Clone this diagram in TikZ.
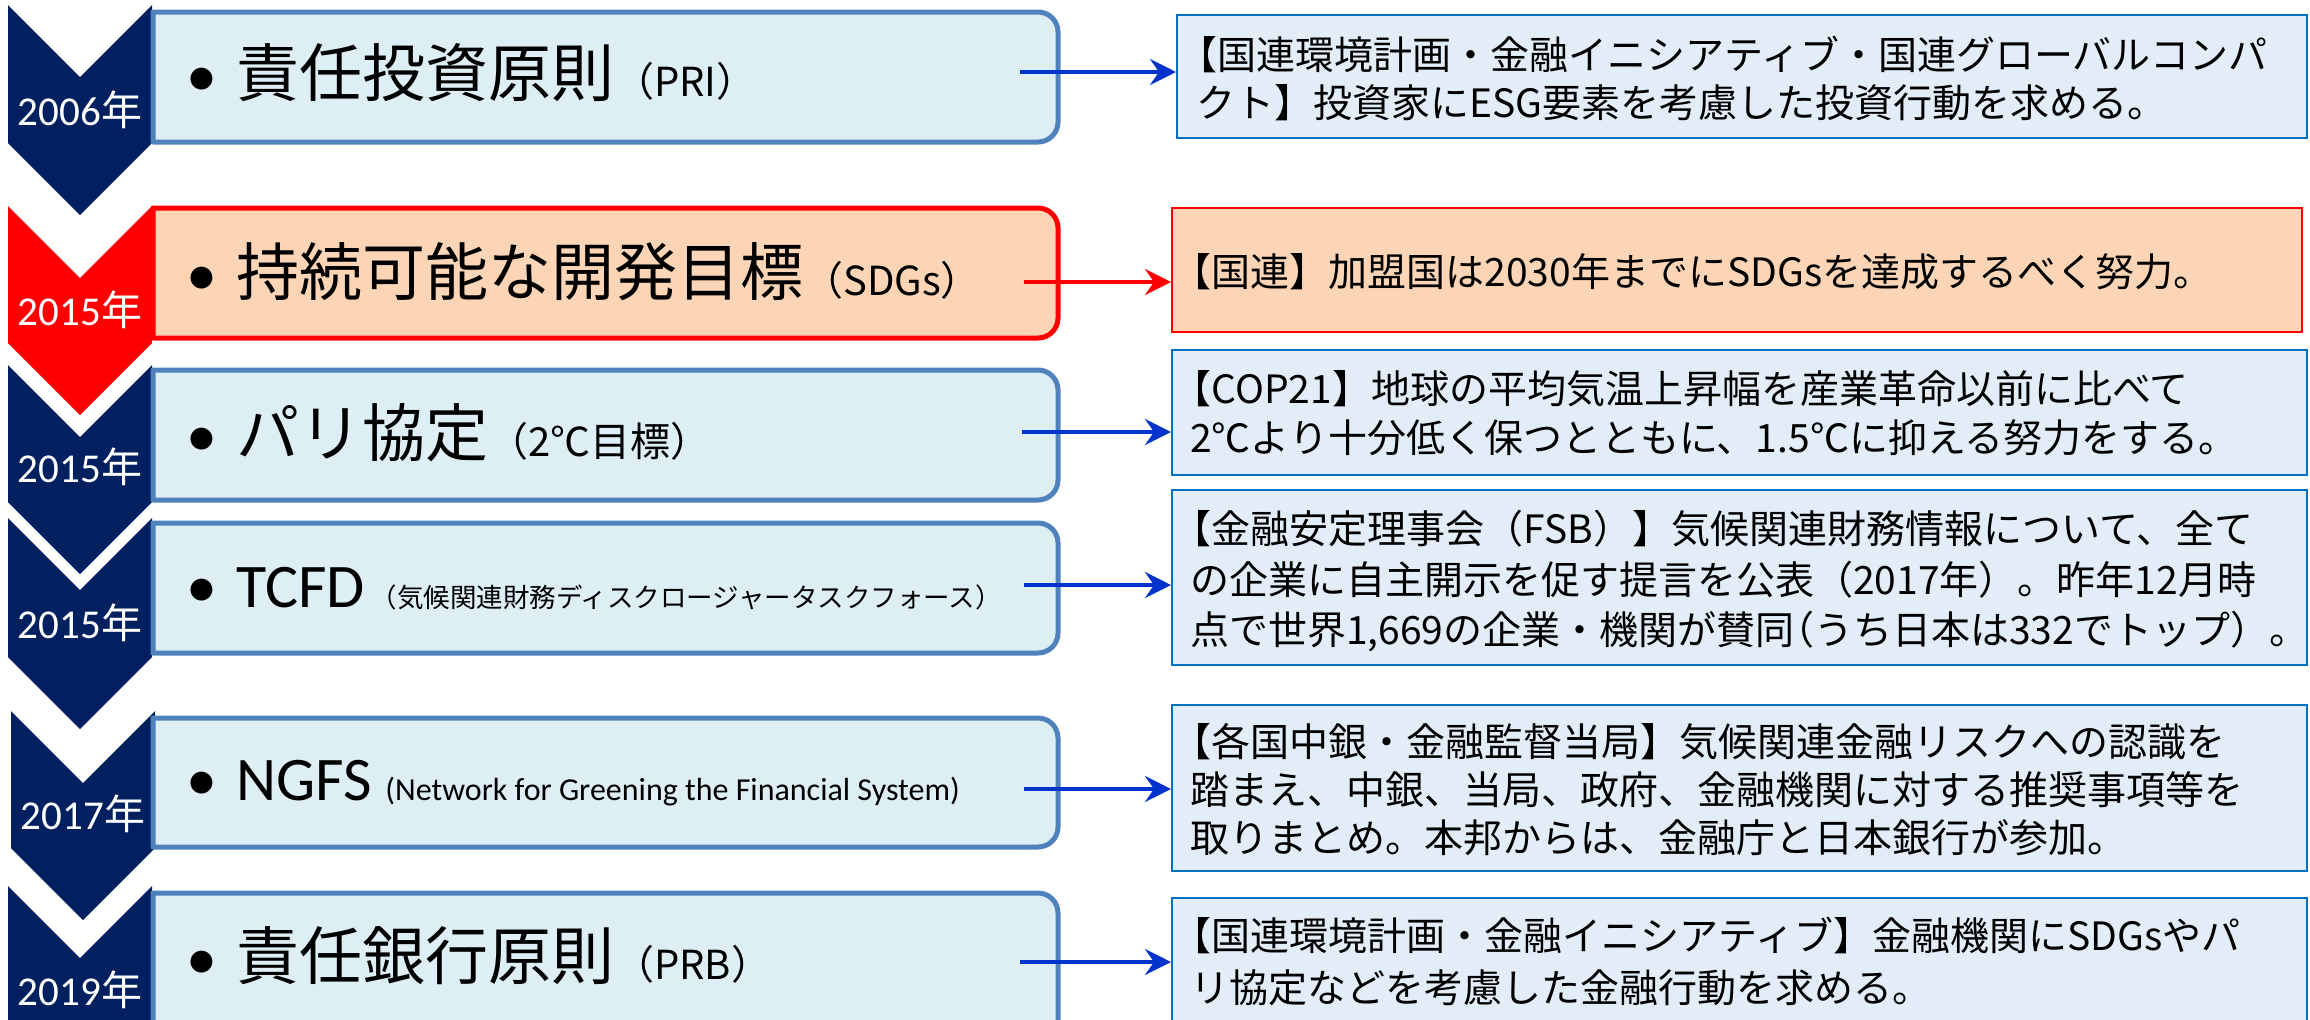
\documentclass[tikz,border=0pt]{standalone}
\usepackage{fontspec}
\setmainfont{Noto Sans CJK JP}
\newfontfamily\calfont{Carlito}
\usetikzlibrary{arrows.meta}
\definecolor{navy}{HTML}{002060}
\definecolor{mfill}{HTML}{DDEEF5}
\definecolor{mborder}{HTML}{4F81BD}
\definecolor{rfill}{HTML}{E2EDF8}
\definecolor{rborder}{HTML}{0070C0}
\definecolor{peach}{HTML}{FBD5B5}
\definecolor{arrowblue}{HTML}{0033CC}
\newcommand\fsz[1]{\fontsize{#1bp}{#1bp}\selectfont}
\newcommand\chev[4]{\fill[#4] (#1,#2) -- (#1+72,#2+72) -- (#1+144,#2) -- (#1+144,#3) -- (#1+72,#3+72) -- (#1,#3) -- cycle;}
\newcommand\mainbox[3]{\filldraw[#3] (153,#1) -- (1038,#1) arc[start angle=-90,end angle=0,radius=20] -- (1058,#2-20) arc[start angle=0,end angle=90,radius=20] -- (153,#2) -- cycle;}
\tikzset{
  bluebox/.style={fill=mfill,draw=mborder,line width=5bp,line join=round},
  redbox/.style={fill=peach,draw=red,line width=5bp,line join=round},
  rbox/.style={draw=rborder,fill=rfill,line width=2bp,inner sep=0pt},
  rredbox/.style={draw=red,fill=peach,line width=2bp,inner sep=0pt},
  year/.style={anchor=base,inner sep=0pt,text=white,font=\fsz{41}},
  mtext/.style={anchor=base west,inner sep=0pt},
  rtext/.style={anchor=base west,inner sep=0pt,font=\fsz{39}},
  conn/.style={line width=4bp,-{Stealth[length=26bp,width=26bp,inset=9bp]}},
}
\newcommand\bul{\makebox[32bp][c]{\calfont\fsz{62}•}\hspace{18bp}}
\begin{document}
\begin{tikzpicture}[x=1bp,y=-1bp]
\useasboundingbox (0,0) rectangle (2310,1019);
\clip (0,0) rectangle (2310,1019);
% chevrons
\chev{8}{5}{143}{navy}
\chev{8}{206}{343}{red}
\chev{8}{365}{502}{navy}
\chev{8}{518}{657}{navy}
\chev{11}{711}{848}{navy}
\chev{8}{886}{1060}{navy}
% main boxes
\mainbox{12}{142}{bluebox}
\mainbox{208}{338}{redbox}
\mainbox{370}{500}{bluebox}
\mainbox{523}{653}{bluebox}
\mainbox{718}{847}{bluebox}
\mainbox{893}{1060}{bluebox}
% year labels
\node[year] (y1) at (80,125) {{\calfont 2006}年};
\node[year] (y2) at (80,325) {{\calfont 2015}年};
\node[year] (y3) at (80,482) {{\calfont 2015}年};
\node[year] (y4) at (80,638) {{\calfont 2015}年};
\node[year] (y5) at (83,829) {{\calfont 2017}年};
\node[year] (y6) at (80,1005) {{\calfont 2019}年};
% main texts
\node[mtext] (m1) at (186,96) {\bul{\fsz{63}責任投資原則}{\fsz{40}（PRI）}};
\node[mtext] (m2) at (186,295) {\bul{\fsz{63}持続可能な開発目標}{\fsz{40}（SDGs）}};
\node[mtext] (m3) at (186,456) {\bul{\fsz{63}パリ協定}{\fsz{40}（2℃目標）}};
\node[mtext] (m4) at (186,607) {\bul{\calfont\fsz{62}TCFD}\hspace{6bp}{\fsz{26.5}（気候関連財務ディスクロージャータスクフォース）}};
\node[mtext] (m5) at (186,800) {\bul{\calfont\fsz{62}NGFS }{\calfont\fsz{32}(Network for Greening the Financial System)}};
\node[mtext] (m6) at (186,979) {\bul{\fsz{63}責任銀行原則}{\fsz{40}（PRB）}};
% right boxes
\node[rbox,minimum width=1130bp,minimum height=123bp] (r1) at (1742,76.5) {};
\node[rredbox,minimum width=1130bp,minimum height=124bp] (r2) at (1737,270) {};
\node[rbox,minimum width=1135bp,minimum height=125bp] (r3) at (1739.5,412.5) {};
\node[rbox,minimum width=1135bp,minimum height=175bp] (r4) at (1739.5,577.5) {};
\node[rbox,minimum width=1135bp,minimum height=166bp] (r5) at (1739.5,788) {};
\node[rbox,minimum width=1135bp,minimum height=142bp] (r6) at (1739.5,969) {};
% right texts
\node[rtext] (t1a) at (1196,69) {\kern-.45em【国連環境計画・金融イニシアティブ・国連グローバルコンパ};
\node[rtext] (t1b) at (1196,117) {クト】投資家にESG要素を考慮した投資行動を求める。};
\node[rtext] (t2a) at (1190,286) {\kern-.45em【国連】加盟国は2030年までにSDGsを達成するべく努力。};
\node[rtext] (t3a) at (1190,403) {\kern-.45em【COP21】地球の平均気温上昇幅を産業革命以前に比べて};
\node[rtext] (t3b) at (1190,452) {2℃より十分低く保つとともに、1.5℃に抑える努力をする。};
\node[rtext] (t4a) at (1190,543) {\kern-.45em【金融安定理事会（FSB）】気候関連財務情報について、全て};
\node[rtext] (t4b) at (1190,594) {の企業に自主開示を促す提言を公表（2017年）。昨年12月時};
\node[rtext] (t4c) at (1190,644) {点で世界1,669の企業・機関が賛同\kern-.5em（うち日本は332でトップ）。};
\node[rtext] (t5a) at (1190,756) {\kern-.45em【各国中銀・金融監督当局】気候関連金融リスクへの認識を};
\node[rtext] (t5b) at (1190,804) {踏まえ、中銀、当局、政府、金融機関に対する推奨事項等を};
\node[rtext] (t5c) at (1190,852) {取りまとめ。本邦からは、金融庁と日本銀行が参加。};
\node[rtext] (t6a) at (1190,950) {\kern-.45em【国連環境計画・金融イニシアティブ】金融機関にSDGsやパ};
\node[rtext] (t6b) at (1190,1002) {リ協定などを考慮した金融行動を求める。};
% connectors
\coordinate (a1) at (1020,72);
\coordinate (a2) at (1024,282);
\coordinate (a3) at (1022,432);
\coordinate (a4) at (1024,585);
\coordinate (a5) at (1024,789);
\coordinate (a6) at (1020,962);
\draw[conn,arrowblue] (a1) -- (r1.west |- a1);
\draw[conn,red] (a2) -- (r2.west |- a2);
\draw[conn,arrowblue] (a3) -- (r3.west |- a3);
\draw[conn,arrowblue] (a4) -- (r4.west |- a4);
\draw[conn,arrowblue] (a5) -- (r5.west |- a5);
\draw[conn,arrowblue] (a6) -- (r6.west |- a6);
\end{tikzpicture}
\end{document}
